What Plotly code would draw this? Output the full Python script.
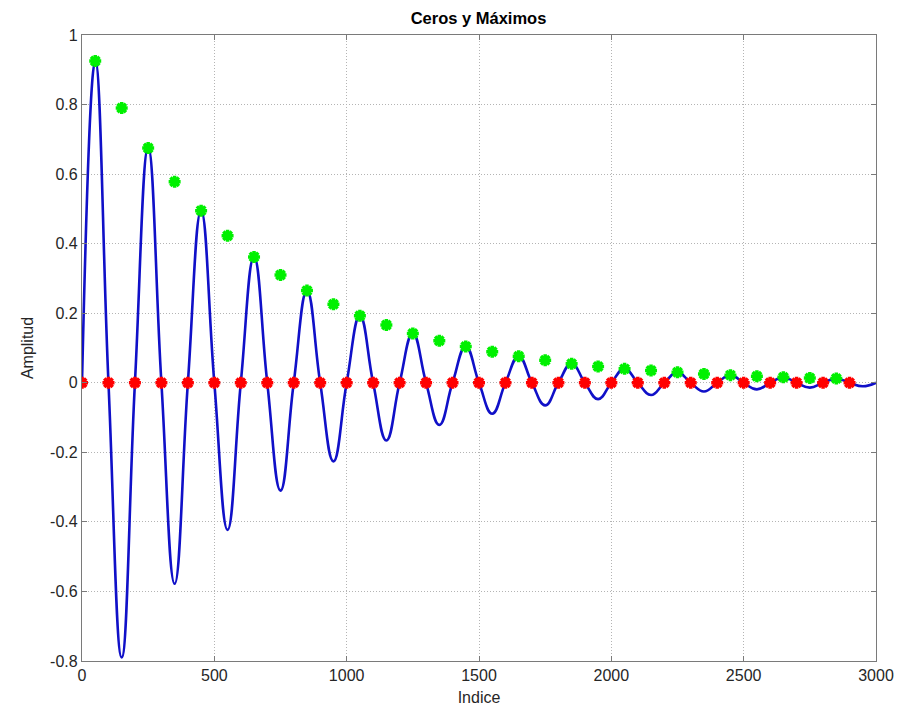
import plotly.graph_objects as go

# Zero crossings (red) and envelope maxima (green)
zero_idx = list(range(0, 3000, 100))            # 0..2900
zero_val = [0.0] * len(zero_idx)

max_idx = list(range(50, 2900, 100))            # 50..2850
max_val = [0.925, 0.790, 0.675, 0.578, 0.495, 0.423, 0.362, 0.310, 0.265, 0.226,
           0.193, 0.166, 0.142, 0.121, 0.104, 0.089, 0.076, 0.065, 0.055, 0.047,
           0.040, 0.035, 0.030, 0.025, 0.022, 0.019, 0.016, 0.014, 0.012]

# Knots of the blue signal: zero crossings and signed extremes
curve_idx = [0, 50, 100, 150, 200, 250, 300, 350, 400, 450, 500, 550, 600, 650, 700,
             750, 800, 850, 900, 950, 1000, 1050, 1100, 1150, 1200, 1250, 1300, 1350,
             1400, 1450, 1500, 1550, 1600, 1650, 1700, 1750, 1800, 1850, 1900, 1950,
             2000, 2050, 2100, 2150, 2200, 2250, 2300, 2350, 2400, 2450, 2500, 2550,
             2600, 2650, 2700, 2750, 2800, 2850, 2900, 2950, 3000]
curve_val = [0, 0.925, 0, -0.790, 0, 0.675, 0, -0.578, 0, 0.495, 0, -0.423, 0, 0.362, 0,
             -0.310, 0, 0.265, 0, -0.226, 0, 0.193, 0, -0.166, 0, 0.142, 0, -0.121,
             0, 0.104, 0, -0.089, 0, 0.076, 0, -0.065, 0, 0.055, 0, -0.047,
             0, 0.040, 0, -0.035, 0, 0.030, 0, -0.025, 0, 0.022, 0, -0.019,
             0, 0.016, 0, -0.014, 0, 0.012, 0, -0.010, 0]

x_ticks = [0, 500, 1000, 1500, 2000, 2500, 3000]
x_labels = ["0", "500", "1000", "1500", "2000", "2500", "3000"]
y_ticks = [-0.8, -0.6, -0.4, -0.2, 0, 0.2, 0.4, 0.6, 0.8, 1]
y_labels = ["-0.8", "-0.6", "-0.4", "-0.2", "0", "0.2", "0.4", "0.6", "0.8", "1"]

FONT = "Liberation Sans, Arial, Helvetica"

fig = go.Figure()
fig.add_trace(go.Scatter(x=curve_idx, y=curve_val, mode="lines",
                         line=dict(color="#1010c8", width=2.6, shape="spline", smoothing=1.3),
                         hoverinfo="skip"))
fig.add_trace(go.Scatter(x=max_idx, y=max_val, mode="markers",
                         marker=dict(symbol="asterisk-open", size=10, color="#00f000",
                                     line=dict(color="#00f000", width=3.5))))
fig.add_trace(go.Scatter(x=zero_idx, y=zero_val, mode="markers",
                         marker=dict(symbol="asterisk-open", size=10, color="#ff0000",
                                     line=dict(color="#ff0000", width=3.5))))

axis_common = dict(showline=True, linecolor="#7a7a7a", linewidth=1.2, mirror="ticks",
                   ticks="inside", ticklen=5, tickcolor="#7a7a7a", automargin=False,
                   showgrid=True, gridcolor="#b4b4b4", griddash="1px,2px", gridwidth=1,
                   zeroline=False, tickfont=dict(family=FONT, size=16, color="#262626"))

# The page body adds an 8px offset, so the figure is 8px smaller than the window
fig.update_layout(
    width=911, height=705,
    margin=dict(l=74, r=43, t=27, b=52),
    plot_bgcolor="white", paper_bgcolor="white",
    showlegend=False,
    title=dict(text="<b>Ceros y Máximos</b>", x=0.5165, xanchor="center", y=0.985, yanchor="middle",
               font=dict(family=FONT, size=16.5, color="black")),
    xaxis=dict(range=[0, 3000], tickvals=x_ticks, ticktext=x_labels,
               title=dict(text="Indice", standoff=8,
                          font=dict(family=FONT, size=16, color="#262626")),
               **axis_common),
    yaxis=dict(range=[-0.8, 1], tickvals=y_ticks, ticktext=y_labels,
               title=dict(text="Amplitud", standoff=12,
                          font=dict(family=FONT, size=16, color="#262626")),
               **axis_common),
)

fig.write_html("out.html")
